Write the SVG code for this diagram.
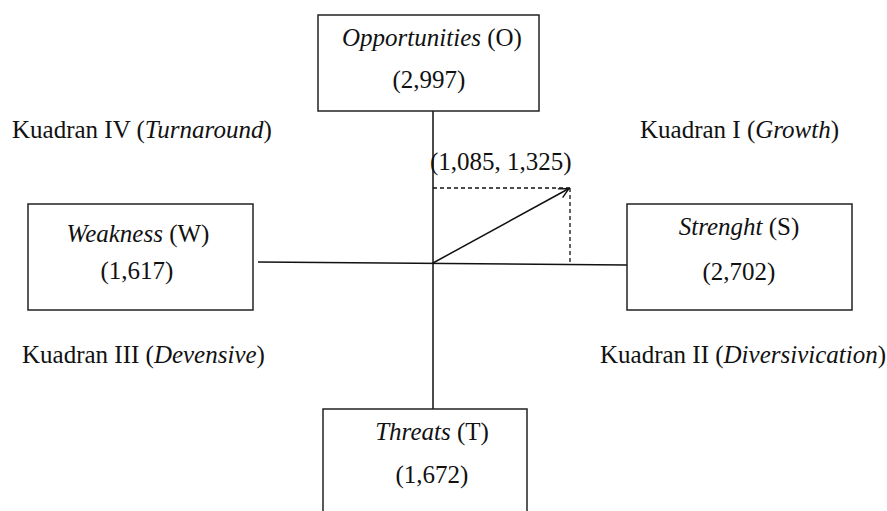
<svg xmlns="http://www.w3.org/2000/svg" width="887" height="511" viewBox="0 0 887 511">
<defs>
<style>
text{font-family:"Liberation Serif","Times New Roman",serif;font-size:25px;fill:#111}
.c{text-anchor:middle}
.i{font-style:italic}
.box{fill:#fff;stroke:#222;stroke-width:1.5}
.ln{stroke:#111;stroke-width:1.5;fill:none}
.dash{stroke:#111;stroke-width:1.3;stroke-dasharray:4,3;fill:none}
</style>
<marker id="arr" viewBox="0 0 12 12" refX="11" refY="6" markerWidth="12" markerHeight="12" markerUnits="userSpaceOnUse" orient="auto">
<path d="M1,1 L11,6 L1,11" fill="none" stroke="#111" stroke-width="1.4"/>
</marker>
</defs>
<rect width="887" height="511" fill="#fff"/>
<g id="connectors">
<line class="ln" x1="433" y1="111" x2="433" y2="409"/>
<line class="ln" x1="258" y1="262" x2="627" y2="265"/>
<line class="dash" x1="433" y1="188" x2="570" y2="188"/>
<line class="dash" x1="570" y1="188" x2="570" y2="264"/>
<line class="ln" x1="433" y1="263" x2="569" y2="188.5" marker-end="url(#arr)"/>
</g>
<g id="node-o">
<rect class="box" x="318" y="15" width="221" height="96"/>
<text class="c" x="432" y="46"><tspan class="i">Opportunities</tspan> (O)</text>
<text class="c" x="429" y="88">(2,997)</text>
</g>
<g id="node-w">
<rect class="box" x="28" y="204" width="225" height="106"/>
<text class="c" x="138" y="242"><tspan class="i">Weakness</tspan> (W)</text>
<text class="c" x="137" y="279">(1,617)</text>
</g>
<g id="node-s">
<rect class="box" x="627" y="204" width="225" height="106"/>
<text class="c" x="739" y="235"><tspan class="i">Strenght</tspan> (S)</text>
<text class="c" x="739" y="280">(2,702)</text>
</g>
<g id="node-t">
<rect class="box" x="323" y="409" width="204" height="110"/>
<text class="c" x="432" y="440"><tspan class="i">Threats</tspan> (T)</text>
<text class="c" x="432" y="483">(1,672)</text>
</g>
<g id="labels">
<text x="430" y="170">(1,085, 1,325)</text>
<text x="12" y="138">Kuadran IV (<tspan class="i">Turnaround</tspan>)</text>
<text x="640" y="138">Kuadran I (<tspan class="i">Growth</tspan>)</text>
<text x="22" y="363">Kuadran III (<tspan class="i">Devensive</tspan>)</text>
<text x="600" y="363">Kuadran II (<tspan class="i">Diversivication</tspan>)</text>
</g>
</svg>
